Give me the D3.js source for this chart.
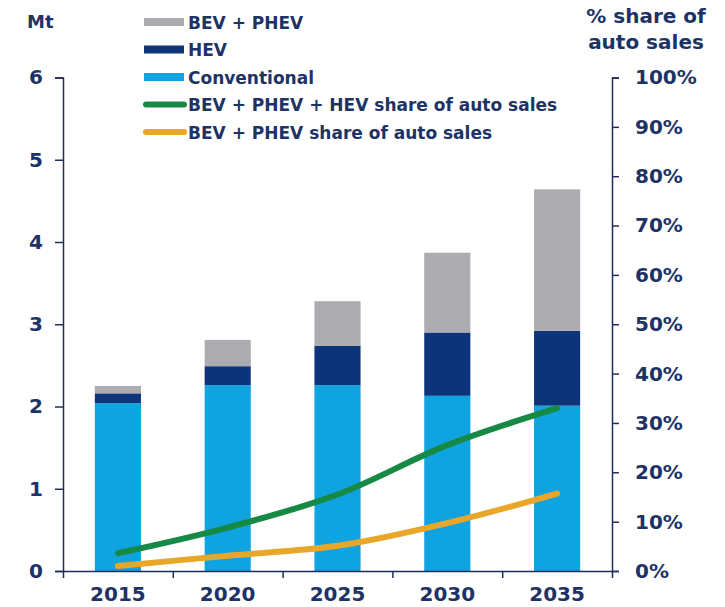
<!DOCTYPE html>
<html>
<head>
<meta charset="utf-8">
<script src="https://cdn.jsdelivr.net/npm/d3@7"></script>
<style>
  body { margin: 0; background: #fff; }
  svg text { font-family: "DejaVu Sans", sans-serif; font-weight: bold; fill: #1d3366; }
</style>
</head>
<body>
<div id="chart"></div>
<script>
// data
const years = ["2015", "2020", "2025", "2030", "2035"];
const conventional = [2.04, 2.26, 2.26, 2.13, 2.01];
const hev = [0.12, 0.23, 0.48, 0.77, 0.91];
const bevPhev = [0.09, 0.32, 0.54, 0.97, 1.72];
const shareAll = [3.6, 8.8, 15.5, 25.5, 33.0];   // BEV + PHEV + HEV share, %
const shareBev = [1.0, 3.1, 5.1, 9.7, 15.7];     // BEV + PHEV share, %
const leftTicks = [0, 1, 2, 3, 4, 5, 6];
const rightTicks = [0, 10, 20, 30, 40, 50, 60, 70, 80, 90, 100];

const seriesNames = ["Conventional", "HEV", "BEV + PHEV"];
const colors = { "Conventional": "#0fa3e0", "HEV": "#0d347a", "BEV + PHEV": "#adadb1" };
const green = "#168a45", orange = "#e9a72a", axisColor = "#1f2d5a";

const W = 725, H = 607;
const x0 = 63, x1 = 612, yBottom = 571, yTop = 77.5;

const svg = d3.select("#chart").append("svg").attr("width", W).attr("height", H);

const rows = years.map((y, i) => ({
    year: y,
    "Conventional": conventional[i],
    "HEV": hev[i],
    "BEV + PHEV": bevPhev[i]
}));

const x = d3.scaleBand().domain(years).range([x0, x1]).paddingInner(0.58).paddingOuter(0.29);
const xEdge = d3.scaleLinear().domain([0, years.length]).range([x0, x1]);
const y = d3.scaleLinear().domain([0, 6]).range([yBottom, yTop]);
const yR = d3.scaleLinear().domain([0, 100]).range([yBottom, yTop]);

// Bars
const stacked = d3.stack().keys(seriesNames)(rows);
svg.append("g").selectAll("g")
    .data(stacked)
    .join("g")
    .attr("fill", d => colors[d.key])
    .selectAll("rect")
    .data(d => d)
    .join("rect")
    .attr("x", d => x(d.data.year))
    .attr("width", x.bandwidth())
    .attr("y", d => y(d[1]))
    .attr("height", d => y(d[0]) - y(d[1]));

// Lines
const line = d3.line()
    .x((d, i) => x(years[i]) + x.bandwidth() / 2)
    .y(d => yR(d))
    .curve(d3.curveCatmullRom.alpha(0.5));

[[shareBev, orange], [shareAll, green]].forEach(([vals, c]) => {
    svg.append("path")
        .datum(vals)
        .attr("d", line)
        .attr("fill", "none")
        .attr("stroke", c)
        .attr("stroke-width", 6)
        .attr("stroke-linecap", "round")
        .attr("stroke-linejoin", "round");
});

// Axes
function styleAxis(g) {
    g.selectAll("path, line").attr("stroke", axisColor).attr("stroke-width", 1.5);
    g.selectAll("text").style("font-size", "20px").attr("fill", "#1d3366");
}

svg.append("g")
    .attr("transform", `translate(${x0},0)`)
    .call(d3.axisLeft(y).tickValues(leftTicks).tickSize(8).tickPadding(12).tickFormat(d3.format("d")))
    .call(styleAxis);

svg.append("g")
    .attr("transform", `translate(${x1},0)`)
    .call(d3.axisRight(yR).tickValues(rightTicks).tickSize(7).tickPadding(16).tickFormat(d => d + "%"))
    .call(styleAxis);

svg.append("g")
    .attr("transform", `translate(0,${yBottom})`)
    .call(d3.axisBottom(xEdge).tickValues(d3.range(years.length + 1)).tickSize(7).tickSizeOuter(0).tickFormat(""))
    .call(styleAxis);

svg.append("g")
    .attr("transform", `translate(0,${yBottom})`)
    .call(d3.axisBottom(x).tickSize(0).tickPadding(16))
    .call(styleAxis)
    .call(g => g.select(".domain").remove());

// Axis titles
svg.append("text").attr("x", 27).attr("y", 28).style("font-size", "18px").text("Mt");
svg.append("text").attr("x", 646).attr("y", 23).attr("text-anchor", "middle")
    .style("font-size", "20px").text("% share of");
svg.append("text").attr("x", 646).attr("y", 49).attr("text-anchor", "middle")
    .style("font-size", "20px").text("auto sales");

// Legend
const legendItems = [
    { label: "BEV + PHEV", type: "rect", color: colors["BEV + PHEV"] },
    { label: "HEV", type: "rect", color: colors["HEV"] },
    { label: "Conventional", type: "rect", color: colors["Conventional"] },
    { label: "BEV + PHEV + HEV share of auto sales", type: "line", color: green },
    { label: "BEV + PHEV share of auto sales", type: "line", color: orange }
];

const legend = svg.append("g").attr("transform", "translate(144,0)");
const item = legend.selectAll("g")
    .data(legendItems)
    .join("g")
    .attr("transform", (d, i) => `translate(0,${22 + i * 27.5})`);

item.filter(d => d.type === "rect").append("rect")
    .attr("x", 0).attr("y", -4).attr("width", 40).attr("height", 8)
    .attr("fill", d => d.color);

item.filter(d => d.type === "line").append("line")
    .attr("x1", 2).attr("x2", 40).attr("y1", 0).attr("y2", 0)
    .attr("stroke", d => d.color).attr("stroke-width", 6).attr("stroke-linecap", "round");

item.append("text")
    .attr("x", 44).attr("y", 6.5)
    .style("font-size", "17px")
    .attr("fill", "#2a3a6c")
    .text(d => d.label);
</script>
</body>
</html>
